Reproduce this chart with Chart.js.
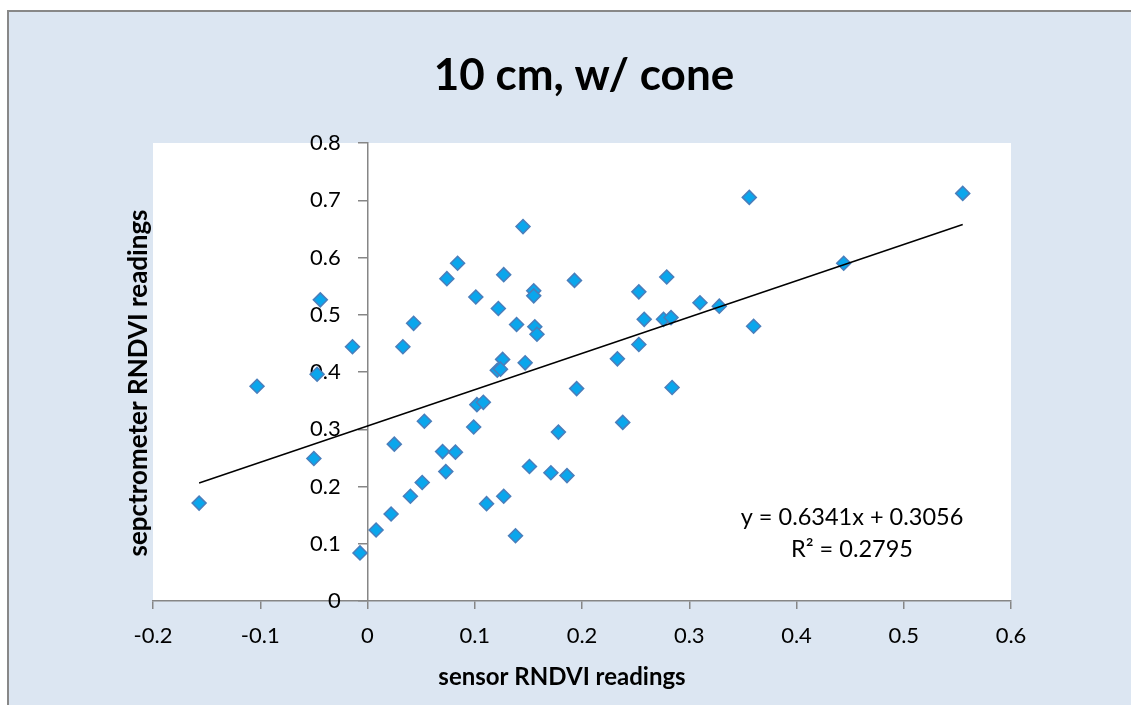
<!DOCTYPE html>
<html>
<head>
<meta charset="utf-8">
<script src="https://cdn.jsdelivr.net/npm/chart.js@4.4.0/dist/chart.umd.min.js"></script>
<style>
  html, body { margin: 0; padding: 0; background: #fff; overflow: hidden; }
  #frame {
    position: absolute; left: 7px; top: 10px; right: 0; bottom: 0;
    background: #dce6f2;
    border-top: 2px solid #888; border-left: 2px solid #888;
  }
  #chart { position: absolute; left: 0; top: 0; }
</style>
</head>
<body>
<div id="frame"></div>
<canvas id="chart" width="1131" height="705"></canvas>
<script>
const chartTitle = '10 cm, w/ cone';
const xAxisTitle = 'sensor RNDVI readings';
const yAxisTitle = 'sepctrometer RNDVI readings';

// sensor reading (x) and spectrometer reading (y), one entry per sample
const sensorX = [
  -0.157, -0.103, -0.047, -0.050, -0.007, 0.008, 0.022, 0.040, 0.051, 0.025,
  0.053, 0.070, 0.073, -0.044, -0.014, 0.033, 0.043, 0.074, 0.145, 0.084,
  0.127, 0.101, 0.155, 0.155, 0.193, 0.122, 0.139, 0.156, 0.158, 0.253,
  0.279, 0.310, 0.328, 0.258, 0.276, 0.283, 0.253, 0.233, 0.126, 0.147,
  0.121, 0.124, 0.102, 0.108, 0.099, 0.195, 0.284, 0.238, 0.178, 0.082,
  0.151, 0.171, 0.186, 0.127, 0.111, 0.138, 0.356, 0.555, 0.444, 0.360
];
const spectroY = [
  0.171, 0.375, 0.396, 0.249, 0.084, 0.124, 0.152, 0.183, 0.207, 0.274,
  0.314, 0.261, 0.226, 0.526, 0.444, 0.444, 0.485, 0.563, 0.654, 0.590,
  0.570, 0.531, 0.542, 0.533, 0.560, 0.511, 0.483, 0.479, 0.466, 0.540,
  0.566, 0.521, 0.515, 0.492, 0.492, 0.495, 0.448, 0.423, 0.422, 0.416,
  0.403, 0.405, 0.343, 0.347, 0.304, 0.371, 0.373, 0.312, 0.295, 0.260,
  0.235, 0.224, 0.219, 0.183, 0.170, 0.114, 0.705, 0.712, 0.590, 0.480
];

const xTickLabels = ['-0.2', '-0.1', '0', '0.1', '0.2', '0.3', '0.4', '0.5', '0.6'];
const yTickLabels = ['0', '0.1', '0.2', '0.3', '0.4', '0.5', '0.6', '0.7', '0.8'];

// linear trendline as printed on the chart
const trendSlope = 0.6341;
const trendIntercept = 0.3056;
const trendText = ['y = 0.6341x + 0.3056', 'R\u00B2 = 0.2795'];

const points = sensorX.map((x, i) => ({ x: x, y: spectroY[i] }));
const xMin = Math.min(...sensorX);
const xMax = Math.max(...sensorX);
const trendPoints = [
  { x: xMin, y: trendSlope * xMin + trendIntercept },
  { x: xMax, y: trendSlope * xMax + trendIntercept }
];

const axisGray = '#868686';
const tickFont = { family: 'Lato', size: 22 };

const decorations = {
  id: 'decorations',
  beforeDraw(chart) {
    const { ctx, chartArea: a } = chart;
    ctx.save();
    ctx.fillStyle = '#fff';
    ctx.fillRect(a.left, a.top, a.right - a.left, a.bottom - a.top);
    ctx.restore();
  },
  afterDraw(chart) {
    const ctx = chart.ctx;
    ctx.save();
    ctx.fillStyle = '#000';
    ctx.textAlign = 'center';
    ctx.textBaseline = 'alphabetic';

    ctx.font = 'bold 44px Lato';
    ctx.fillText(chartTitle, 584, 90);

    ctx.font = 'bold 24px Lato';
    ctx.fillText(xAxisTitle, 562, 685);

    ctx.save();
    ctx.font = 'bold 26px Lato';
    ctx.translate(147, 383);
    ctx.rotate(-Math.PI / 2);
    ctx.fillText(yAxisTitle, 0, 0);
    ctx.restore();

    ctx.font = '23.5px Lato';
    ctx.fillText(trendText[0], 852, 525);
    ctx.fillText(trendText[1], 852, 557);
    ctx.restore();
  }
};

new Chart(document.getElementById('chart'), {
  type: 'scatter',
  data: {
    datasets: [
      {
        label: 'trend',
        data: trendPoints,
        showLine: true,
        borderColor: '#000',
        borderWidth: 1.5,
        pointRadius: 0,
        order: 0
      },
      {
        label: 'readings',
        data: points,
        pointStyle: 'rectRot',
        pointRadius: 7,
        pointBorderWidth: 1.5,
        backgroundColor: '#0aa6ec',
        borderColor: '#4a7ebb',
        order: 1
      }
    ]
  },
  options: {
    responsive: false,
    devicePixelRatio: 1,
    animation: false,
    layout: { padding: { top: 143, right: 120, bottom: 0, left: 0 } },
    plugins: {
      legend: { display: false },
      tooltip: { enabled: false }
    },
    scales: {
      x: {
        type: 'linear',
        position: 'bottom',
        min: -0.2,
        max: 0.6,
        ticks: {
          stepSize: 0.1,
          padding: 14,
          color: '#000',
          font: tickFont,
          maxRotation: 0,
          callback: (v, i) => xTickLabels[i]
        },
        grid: { drawOnChartArea: false, tickLength: 8, color: axisGray, lineWidth: 1.5 },
        border: { color: axisGray, width: 1.5 },
        afterFit: s => { s.height = 104; }
      },
      y: {
        type: 'linear',
        position: { x: 0 },
        min: 0,
        max: 0.8,
        ticks: { stepSize: 0.1, display: false },
        grid: { drawOnChartArea: false, tickLength: 9, color: axisGray, lineWidth: 1.5 },
        border: { color: axisGray, width: 1.5 }
      },
      yLabels: {
        // labels only; mirrored so they sit next to the x = 0 axis line
        type: 'linear',
        position: 'left',
        min: 0,
        max: 0.8,
        ticks: {
          stepSize: 0.1,
          mirror: true,
          crossAlign: 'far',
          padding: 157,
          color: '#000',
          font: tickFont,
          callback: (v, i) => yTickLabels[i]
        },
        grid: { display: false, drawTicks: false },
        border: { display: false },
        afterFit: s => {
          s.width = 153;
          s.paddingTop = 0;
          s.paddingBottom = 0;
        }
      }
    }
  },
  plugins: [decorations]
});
</script>
</body>
</html>
